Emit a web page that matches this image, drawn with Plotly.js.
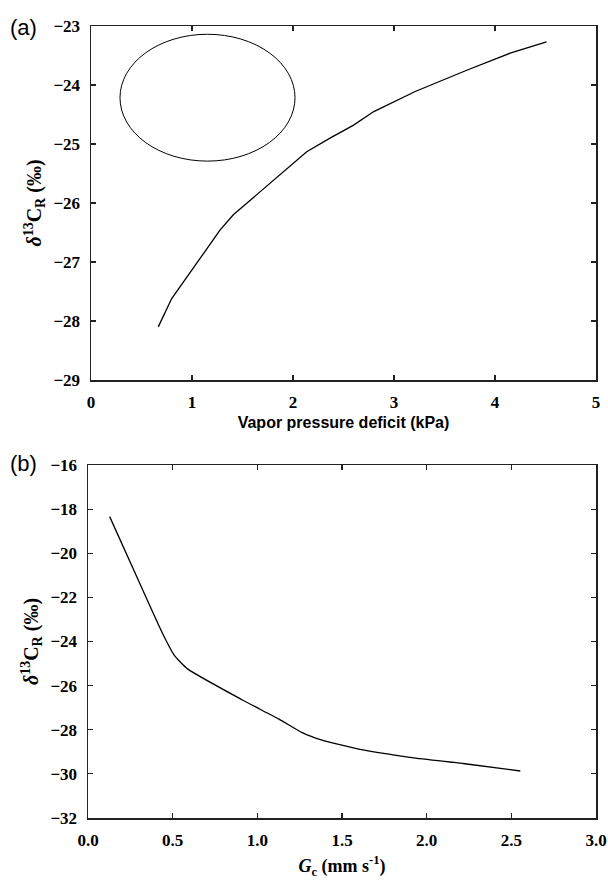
<!DOCTYPE html>
<html>
<head>
<meta charset="utf-8">
<script src="https://cdn.plot.ly/plotly-3.0.1.min.js"></script>
<style>html,body{margin:0;padding:0;background:#fff;}#chart{width:608px;height:888px;}</style>
</head>
<body>
<div id="chart"></div>
<script>
// Panel (a): VPD vs delta13C_R
const vpdX = [0.666, 0.799, 1.08, 1.277, 1.409, 2.136, 2.366, 2.60, 2.80, 3.21, 3.72, 4.15, 4.51];
const vpdY = [-28.10, -27.62, -26.94, -26.46, -26.20, -25.13, -24.90, -24.68, -24.45, -24.11, -23.75, -23.46, -23.27];
// Ellipse bounds in data units: [x0, x1, y0, y1]
const ellipseBox = [0.287, 2.02, -25.29, -23.14];
// Panel (b): Gc vs delta13C_R
const gcX = [0.128, 0.324, 0.441, 0.51, 0.588, 0.912, 1.128, 1.265, 1.382, 1.598, 1.912, 2.226, 2.553];
const gcY = [-18.34, -21.68, -23.65, -24.63, -25.24, -26.65, -27.52, -28.13, -28.47, -28.88, -29.26, -29.54, -29.87];
// Tick positions (labels are formatted by the axes)
const xTicksA = [0, 1, 2, 3, 4, 5];
const yTicksA = [-29, -28, -27, -26, -25, -24, -23];
const xTicksB = [0, 0.5, 1.0, 1.5, 2.0, 2.5, 3.0];
const yTicksB = [-32, -30, -28, -26, -24, -22, -20, -18, -16];

const serif = 'Liberation Serif';
const sans = 'Liberation Sans';

function axis(ticks, fmt, extra) {
  const a = {
    showline: true, linecolor: '#222', linewidth: 1.5, mirror: 'ticks',
    ticks: 'inside', ticklen: 5, tickwidth: 1.2, tickcolor: '#222',
    showgrid: false, zeroline: false,
    tickmode: 'array', tickvals: ticks, tickformat: fmt,
    range: [ticks[0], ticks[ticks.length - 1]],
    tickfont: {family: serif, size: 17, color: '#000', weight: 'bold'},
    ticklabelstandoff: 6
  };
  return Object.assign(a, extra);
}

const W = 608, H = 888;
const M = {l: 88, r: 12, t: 26, b: 70};
const PW = W - M.l - M.r, PH = H - M.t - M.b;
const px = v => (v - M.l) / PW;          // pixel x -> paper x
const py = v => (H - M.b - v) / PH;      // pixel y -> paper y

const traces = [
  {x: vpdX, y: vpdY, xaxis: 'x', yaxis: 'y', mode: 'lines', line: {color: '#000', width: 1.3}, hoverinfo: 'skip'},
  {x: gcX, y: gcY, xaxis: 'x2', yaxis: 'y2', mode: 'lines', line: {color: '#000', width: 1.3, shape: 'spline', smoothing: 0.5}, hoverinfo: 'skip'}
];

const yTitleText = '<b><i>δ</i><sup>13</sup>C<sub>R</sub> (‰)</b>';

const layout = {
  width: W, height: H,
  margin: M,
  font: {family: serif, size: 17, color: '#000', weight: 'bold'},
  paper_bgcolor: '#fff', plot_bgcolor: '#fff',
  showlegend: false,
  xaxis: axis(xTicksA, 'd', {
    domain: [px(91), 1], anchor: 'y',
    title: {text: '<b>Vapor pressure deficit (kPa)</b>', font: {family: sans, size: 16, color: '#000'}, standoff: 6}
  }),
  yaxis: axis(yTicksA, 'd', {
    domain: [py(380), 1], anchor: 'x',
    title: {text: yTitleText, font: {family: serif, size: 20, color: '#000'}, standoff: 6}
  }),
  xaxis2: axis(xTicksB, '.1f', {
    domain: [0, 1], anchor: 'y2',
    title: {text: '<b><i>G</i><sub>c</sub> (mm s<sup>-1</sup>)</b>', font: {family: serif, size: 18, color: '#000'}, standoff: 10}
  }),
  yaxis2: axis(yTicksB, 'd', {
    domain: [0, py(465)], anchor: 'x2',
    title: {text: yTitleText, font: {family: serif, size: 20, color: '#000'}, standoff: 6}
  }),
  shapes: [
    {type: 'circle', xref: 'x', yref: 'y', x0: ellipseBox[0], x1: ellipseBox[1], y0: ellipseBox[2], y1: ellipseBox[3], line: {color: '#000', width: 1}}
  ],
  annotations: [
    {text: '(a)', xref: 'paper', yref: 'paper', x: px(8), y: py(27), xanchor: 'left', yanchor: 'middle', showarrow: false, font: {family: sans, size: 22, color: '#000', weight: 'normal'}},
    {text: '(b)', xref: 'paper', yref: 'paper', x: px(8), y: py(464), xanchor: 'left', yanchor: 'middle', showarrow: false, font: {family: sans, size: 22, color: '#000', weight: 'normal'}}
  ]
};

Plotly.newPlot('chart', traces, layout, {displayModeBar: false, staticPlot: true});
</script>
</body>
</html>
